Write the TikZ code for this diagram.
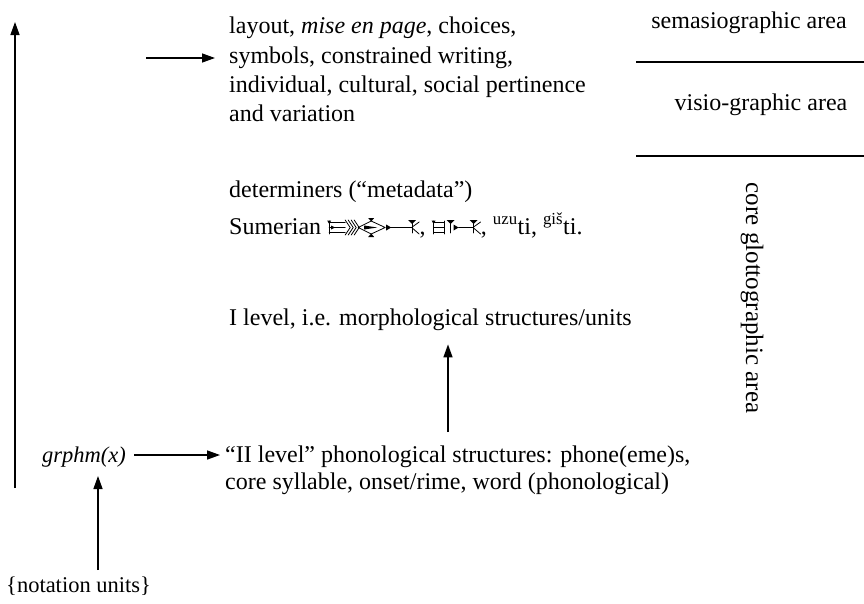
\documentclass[tikz,border=0pt]{standalone}
\usepackage{fontspec}
\setmainfont{Liberation Serif}
\usetikzlibrary{arrows.meta}
\newcommand\cuneA{\tikz[baseline=2pt,x=1pt,y=1pt,line width=0.8pt,line cap=round,line join=round]{%
  \draw (1,2) -- (1,15);
  \fill (-1,15.5) -- (3,15.5) -- (1,12) -- cycle;
  \draw (1,3.5) -- (17,3.5) (1,8.5) -- (17,8.5) (1,13.5) -- (17,13.5);
  \fill (3,10.5) -- (3,6.5) -- (7,8.5) -- cycle;
  \foreach \i in {0,1,2,3}{\draw (17+3*\i,16) -- (22+3*\i,8.5) -- (17+3*\i,1);}
  \draw (30,8.5) -- (43,15) -- (57,8.5) -- (43,2) -- cycle;
  \fill (36,10.5) -- (36,6.5) -- (49,8.5) -- cycle;
  \fill (40,18) -- (46,18) -- (43,14.5) -- cycle;
  \fill (40,-1) -- (46,-1) -- (43,2.5) -- cycle;
  \fill (58,11.5) -- (58,5.5) -- (63,8.5) -- cycle;
  \draw (63,8.5) -- (84,8.5);
  \draw (84,3) -- (84,14);
  \fill (80,16) -- (88,16) -- (84,12) -- cycle;
  \draw (84,9) -- (91,14) (84,8) -- (91,2);
}}
\newcommand\cuneB{\tikz[baseline=2pt,x=1pt,y=1pt,line width=0.8pt,line cap=round,line join=round]{%
  \draw (1,2) -- (1,15);
  \fill (-1,15.5) -- (3,15.5) -- (1,12) -- cycle;
  \draw (1,3.5) -- (12,3.5) (1,8.5) -- (12,8.5) (1,13.5) -- (12,13.5);
  \draw (12,2) -- (12,15);
  \draw (18,3) -- (18,14);
  \fill (14,16) -- (22,16) -- (18,12) -- cycle;
  \fill (21,11.5) -- (21,5.5) -- (26,8.5) -- cycle;
  \draw (26,8.5) -- (41,8.5);
  \draw (41,3) -- (41,14);
  \fill (37,16) -- (45,16) -- (41,12) -- cycle;
  \draw (41,9) -- (48,14) (41,8) -- (48,2);
}}
\begin{document}
\begin{tikzpicture}[x=1pt,y=-1pt,
  every node/.style={inner sep=0pt, font=\fontsize{24}{29}\selectfont},
  small/.style={font=\fontsize{22.5}{27}\selectfont},
  arr/.style={line width=1.4pt, -{Triangle[length=13pt,width=9pt]}},
  rule/.style={line width=1.3pt}]
\useasboundingbox (0,0) rectangle (864,603);
% top block
\node[anchor=base west] (t1) at (229,33) {layout, \textit{mise en page}, choices,};
\node[anchor=base west] (t2) at (229,63) {symbols, constrained writing,};
\node[anchor=base west] (t3) at (229,92) {individual, cultural, social pertinence};
\node[anchor=base west] (t4) at (229,121) {and variation};
% right labels
\node[anchor=base] (sema) at (749,28) {semasiographic area};
\node[anchor=base] (visio) at (761,110) {visio-graphic area};
\coordinate (r1a) at (636,62); \coordinate (r1b) at (864,62);
\coordinate (r2a) at (636,156); \coordinate (r2b) at (864,156);
\draw[rule] (r1a) -- (r1b);
\draw[rule] (r2a) -- (r2b);
\node[rotate=-90, font=\fontsize{25}{30}\selectfont] (core) at (752,298) {core glottographic area};
% middle
\node[anchor=base west] (det) at (229,197) {determiners (“metadata”)};
\node[anchor=base west] (sum) at (229,234) {Sumerian \cuneA, \cuneB, \textsuperscript{uzu}ti, \textsuperscript{giš}ti.};
\node[anchor=base west] (ilev) at (229,325) {I level, i.e. morphological structures/units};
% bottom
\node[anchor=base west] (ii1) at (225,462) {“II level” phonological structures: phone(eme)s,};
\node[anchor=base west] (ii2) at (225,489) {core syllable, onset/rime, word (phonological)};
\node[anchor=base, small] (grphm) at (84,462) {\textit{grphm(x)}};
\node[anchor=base west, small] (nota) at (6,592) {\{notation units\}};
% arrows
\coordinate (la) at (15,488); \coordinate (lt) at (15,22);
\draw[arr] (la) -- (lt);
\coordinate (ta) at (146,58);
\draw[arr, shorten >=14pt] (ta) -- (ta -| t2.west);
\coordinate (ga) at (134,455);
\draw[arr, shorten >=5pt] (ga) -- (ga -| ii1.west);
\coordinate (va) at (448,432);
\draw[arr, shorten >=14pt] (va) -- (va |- ilev.south);
\coordinate (na) at (98,570);
\draw[arr, shorten >=9pt] (na) -- (na |- grphm.south);
\end{tikzpicture}
\end{document}
